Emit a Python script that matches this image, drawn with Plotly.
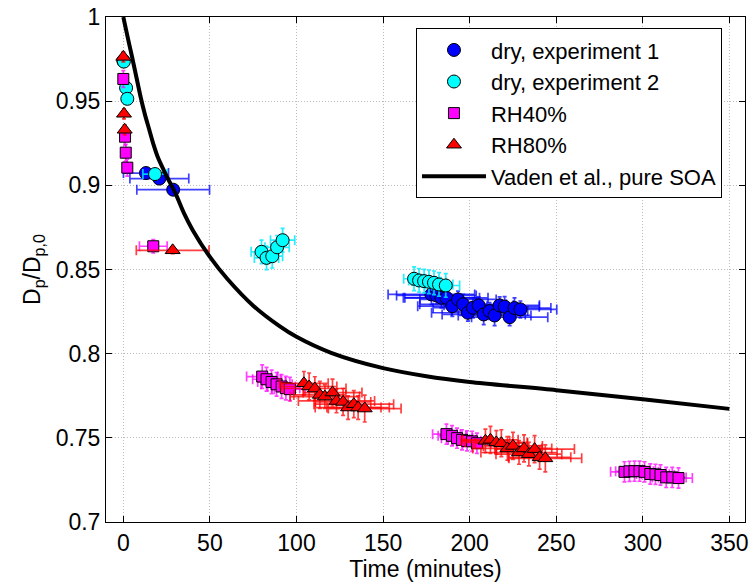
import plotly.graph_objects as go

# ---------------- data ----------------
dry1_t = [0.0, 13.1, 20.8, 28.8, 177.9, 180.8, 183.7, 186.6, 190.0, 193.3, 196.2, 199.0,
          201.9, 205.2, 208.1, 211.5, 214.4, 217.3, 220.2, 223.1, 225.9, 229.3]
dry1_y = [0.9740, 0.9073, 0.9040, 0.8974, 0.8352, 0.8346, 0.8332, 0.8332, 0.8282, 0.8322,
          0.8293, 0.8243, 0.8273, 0.8287, 0.8233, 0.8253, 0.8227, 0.8287, 0.8279, 0.8217,
          0.8271, 0.8263]
dry1_xerr = [0, 13, 17, 21, 25, 23, 22, 24, 20, 22, 25, 21, 23, 20, 24, 22, 21, 23, 20, 22, 21, 21]
dry1_yerr = [0.002, 0.002, 0.002, 0.002, 0.006, 0.005, 0.006, 0.005, 0.006, 0.005, 0.006,
             0.005, 0.006, 0.005, 0.006, 0.005, 0.006, 0.005, 0.006, 0.005, 0.006, 0.005]

dry2_t = [0.3, 1.6, 2.3, 18.3, 79.8, 82.7, 86.0, 88.8, 92.0,
          167.9, 170.8, 173.7, 176.5, 179.4, 182.3, 186.2]
dry2_y = [0.9735, 0.9579, 0.9514, 0.9067, 0.8605, 0.8569, 0.8579, 0.8632, 0.8674,
          0.8445, 0.8435, 0.8431, 0.8427, 0.8421, 0.8411, 0.8405]
dry2_xerr = [0, 0, 0, 7, 6, 7, 6, 7, 7, 6, 6, 7, 7, 7, 8, 8]
dry2_yerr = [0.002, 0.002, 0.002, 0.003, 0.007, 0.007, 0.007, 0.007, 0.007,
             0.007, 0.007, 0.007, 0.007, 0.007, 0.007, 0.007]

rh40_t = [0.0, 1.0, 1.4, 2.3, 17.3, 80.2, 82.7, 85.6, 88.5, 91.4, 93.9, 96.2,
          186.6, 189.8, 192.7, 195.6, 198.5, 201.4, 204.2,
          289.4, 292.3, 295.2, 298.1, 301.0, 304.3, 307.3, 310.2, 313.5, 317.0, 320.6]
rh40_y = [0.9632, 0.9289, 0.9194, 0.9105, 0.8638, 0.7864, 0.7848, 0.7832, 0.7818, 0.7805,
          0.7795, 0.7789, 0.7522, 0.7512, 0.7498, 0.7488, 0.7482, 0.7479, 0.7468,
          0.7298, 0.7301, 0.7302, 0.7302, 0.7298, 0.7285, 0.7283, 0.7279, 0.7265, 0.7265, 0.7261]
rh40_xerr = [0, 0, 0, 0, 8, 9, 8, 8, 9, 8, 8, 9, 8, 8, 9, 8, 8, 9, 8,
             8, 8, 8, 8, 8, 8, 8, 8, 8, 8, 8]
rh40_yerr = [0.005, 0.005, 0.005, 0.005, 0.004, 0.007, 0.007, 0.007, 0.007, 0.007, 0.007,
             0.007, 0.006, 0.006, 0.006, 0.006, 0.006, 0.006, 0.006,
             0.006, 0.006, 0.006, 0.006, 0.006, 0.006, 0.006, 0.006, 0.006, 0.006, 0.006]

rh80_t = [0.0, 0.4, 0.8, 28.5, 104.3, 107.3, 110.6, 113.5, 116.4, 120.8, 123.1, 126.9,
          129.8, 133.1, 135.6, 139.4, 209.1, 212.0, 215.4, 218.3, 221.8, 225.0, 228.5,
          231.4, 234.2, 237.5, 240.4, 243.7]
rh80_y = [0.9763, 0.9425, 0.9330, 0.8614, 0.7824, 0.7805, 0.7793, 0.7755, 0.7745, 0.7769,
          0.7719, 0.7713, 0.7680, 0.7700, 0.7680, 0.7674, 0.7482, 0.7488, 0.7473, 0.7468,
          0.7437, 0.7452, 0.7413, 0.7437, 0.7403, 0.7433, 0.7384, 0.7378]
rh80_xerr = [0, 0, 0, 21, 14, 16, 18, 15, 20, 17, 22, 16, 19, 23, 18, 21,
             14, 16, 18, 15, 20, 17, 22, 16, 19, 23, 18, 21]
rh80_yerr = [0.003, 0.003, 0.003, 0.002, 0.007, 0.008, 0.007, 0.008, 0.007, 0.008, 0.007,
             0.008, 0.007, 0.008, 0.007, 0.008, 0.007, 0.008, 0.007, 0.008, 0.007, 0.008,
             0.007, 0.008, 0.007, 0.008, 0.007, 0.008]

curve_t = [0, 2.5, 5, 7.5, 10, 12.5, 15, 17.5, 20, 25, 30, 35, 40, 50, 60, 75, 90, 100,
           120, 150, 175, 200, 250, 300, 350]
curve_y = [1.0, 0.988, 0.9765, 0.9645, 0.9525, 0.942, 0.933, 0.924, 0.9165, 0.9055, 0.8955,
           0.8835, 0.8735, 0.8575, 0.8445, 0.8285, 0.8165, 0.810, 0.8005, 0.7914, 0.7866,
           0.7832, 0.7783, 0.7729, 0.7672]

x_ticks = [0, 50, 100, 150, 200, 250, 300, 350]
y_ticks = [0.7, 0.75, 0.8, 0.85, 0.9, 0.95, 1.0]
y_ticktext = ["0.7", "0.75", "0.8", "0.85", "0.9", "0.95", "1"]

FONT = "Liberation Sans, Arial, Helvetica, sans-serif"

fig = go.Figure()


def add_series(name, t, y, xe, ye, color, ecolor, symbol, size):
    fig.add_trace(go.Scatter(
        x=t, y=y, mode="markers", name=name,
        marker=dict(symbol=symbol, size=size, color=color,
                    line=dict(color="black", width=1)),
        error_x=dict(type="data", array=xe, visible=True, color=ecolor,
                     thickness=1.7, width=5),
        error_y=dict(type="data", array=ye, visible=True, color=ecolor,
                     thickness=1.7, width=2),
    ))


add_series("dry, experiment 1", dry1_t, dry1_y, dry1_xerr, dry1_yerr,
           "#0000ff", "rgba(0,0,255,0.75)", "circle", 13)
add_series("dry, experiment 2", dry2_t, dry2_y, dry2_xerr, dry2_yerr,
           "#00ffff", "rgba(0,235,255,0.85)", "circle", 13)
add_series("RH40%", rh40_t, rh40_y, rh40_xerr, rh40_yerr,
           "#ff00ff", "rgba(255,0,255,0.75)", "square", 11)
add_series("RH80%", rh80_t, rh80_y, rh80_xerr, rh80_yerr,
           "#ff0000", "rgba(255,0,0,0.75)", "triangle-up", 13)

fig.add_trace(go.Scatter(
    x=curve_t, y=curve_y, mode="lines", name="Vaden et al., pure SOA",
    line=dict(color="black", width=4, shape="spline", smoothing=0.8),
))

axis_common = dict(
    showline=True, linecolor="black", linewidth=1, mirror="ticks",
    ticks="inside", ticklen=6, tickcolor="black",
    showgrid=True, gridcolor="#bbbbbb", griddash="1px,2px", gridwidth=1,
    zeroline=False, ticklabeloverflow="allow", automargin=False,
    tickfont=dict(family=FONT, size=23, color="black"),
    title_font=dict(family=FONT, size=23, color="black"),
)

fig.update_layout(
    width=753, height=587,
    margin=dict(l=106, r=8, t=17, b=65),
    paper_bgcolor="white", plot_bgcolor="white",
    font=dict(family=FONT, size=23, color="black"),
    xaxis=dict(range=[-10, 359], tickvals=x_ticks,
               title=dict(text="Time (minutes)", standoff=4), **axis_common),
    yaxis=dict(range=[0.7, 1.0], tickvals=y_ticks, ticktext=y_ticktext,
               title=dict(text="D<sub>p</sub>/D<sub>p,0</sub>", standoff=8), **axis_common),
    legend=dict(x=0.4851, y=0.978, xanchor="left", yanchor="top",
                bgcolor="white", bordercolor="black", borderwidth=1,
                font=dict(family=FONT, size=22, color="black"),
                itemwidth=64, tracegroupgap=0),
    showlegend=True,
)

# remove the browser's default 8 px page margin so the figure fills the window exactly
fig.write_html(
    "out.html",
    config={"displayModeBar": False},
    post_script="document.body.style.margin='0';"
                "document.documentElement.style.overflow='hidden';",
)
